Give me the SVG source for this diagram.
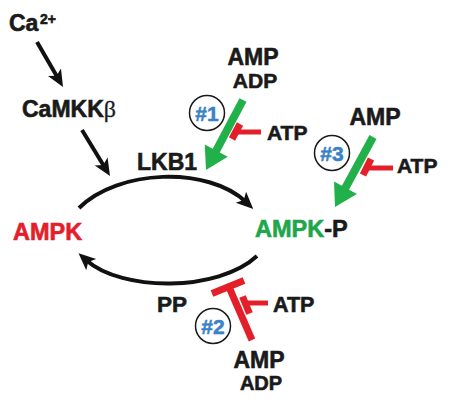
<svg xmlns="http://www.w3.org/2000/svg" width="456" height="406" viewBox="0 0 456 406">
<style>
.t{font-family:"Liberation Sans",Arial,Helvetica,sans-serif;font-weight:bold;fill:#1a1a1a;stroke:#1a1a1a;stroke-width:0.6}
.red{fill:#e3202a;stroke:#e3202a}
.grn{fill:#1ea64b;stroke:#1ea64b}
.num{font-family:"Liberation Sans",Arial,sans-serif;font-weight:bold;fill:#3a82c8;stroke:#3a82c8;stroke-width:0.5;font-size:21px}
.circ{fill:#fff;stroke:#1a1a1a;stroke-width:1.5}
.blk{fill:none;stroke:#111;stroke-width:4}
.gl{fill:none;stroke:#22b04b;stroke-width:8}
.rl{fill:none;stroke:#e3202a;stroke-width:5}
.rb{fill:none;stroke:#e3202a;stroke-width:7}
</style>
<defs>
<marker id="ah" markerUnits="userSpaceOnUse" viewBox="-8 -8 20 16" refX="0" refY="0" markerWidth="20" markerHeight="16" orient="auto">
<path d="M10,0 L-7,-7.5 L-3,0 L-7,7.5 Z" fill="#111"/>
</marker>
<marker id="gh" markerUnits="userSpaceOnUse" viewBox="-12 -14 26 28" refX="0" refY="0" markerWidth="26" markerHeight="28" orient="auto">
<path d="M12,0 L-10,-13 L-10,13 Z" fill="#22b04b"/>
</marker>
</defs>

<g id="connectors">
<path class="blk" d="M37,42 L58,78.3" marker-end="url(#ah)"/>
<path class="blk" d="M82,130 L104.8,167.5" marker-end="url(#ah)"/>
<path class="blk" d="M79,208 C118,169 208,166 246,202" marker-end="url(#ah)"/>
<path class="blk" d="M257,256 C218,292 122,292 86,260" marker-end="url(#ah)"/>
<path class="gl" d="M243,100 L211.6,159.4" marker-end="url(#gh)"/>
<path class="gl" d="M373,137 L340.7,196.5" marker-end="url(#gh)"/>
<path class="rl" d="M261,132 L236,132"/>
<path class="rb" d="M240,124 L232,139"/>
<path class="rl" d="M393,168 L367,168"/>
<path class="rb" d="M371,159 L363,175"/>
<path class="rb" d="M252,340 L229,287"/>
<path class="rb" d="M212,293.5 L244,280.5"/>
<path class="rl" d="M268,303 L246,303"/>
<path class="rb" d="M249.5,313.5 L242.5,296.5"/>
</g>

<g id="ca"><text class="t" x="9" y="31" font-size="23">Ca</text><text class="t" x="40" y="24" font-size="14">2+</text></g>
<g id="camkkb"><text class="t" x="22" y="117" font-size="23">CaMKK<tspan font-family="'Liberation Serif',serif" font-weight="normal" stroke-width="0.3" font-size="24">β</tspan></text></g>
<g id="lkb1"><text class="t" x="137" y="170" font-size="23">LKB1</text></g>
<g id="ampk"><text class="t red" x="13" y="240" font-size="23.5">AMPK</text></g>
<g id="ampkp"><text class="t" x="255" y="237" font-size="23.5"><tspan class="grn">AMPK</tspan>-P</text></g>
<g id="pp"><text class="t" x="157" y="312" font-size="22.5">PP</text></g>

<g id="in1">
<text class="t" x="253" y="65" font-size="23" text-anchor="middle">AMP</text>
<text class="t" x="255" y="88" font-size="21" text-anchor="middle">ADP</text>
<circle class="circ" cx="207" cy="113" r="17.5"/>
<text class="num" x="207" y="120.5" text-anchor="middle">#1</text>
<text class="t" x="267" y="140" font-size="21">ATP</text>
</g>
<g id="in3">
<text class="t" x="375" y="125" font-size="23" text-anchor="middle">AMP</text>
<circle class="circ" cx="332" cy="153" r="17.5"/>
<text class="num" x="332" y="160.5" text-anchor="middle">#3</text>
<text class="t" x="397" y="173" font-size="21">ATP</text>
</g>
<g id="in2">
<text class="t" x="273" y="312" font-size="21.5">ATP</text>
<circle class="circ" cx="213" cy="326" r="17.5"/>
<text class="num" x="213" y="333.5" text-anchor="middle">#2</text>
<text class="t" x="259" y="368" font-size="23" text-anchor="middle">AMP</text>
<text class="t" x="261" y="390" font-size="20" text-anchor="middle">ADP</text>
</g>
</svg>
